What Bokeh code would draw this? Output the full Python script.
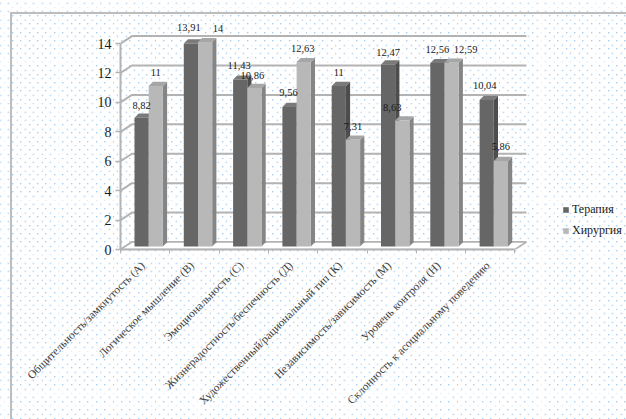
from bokeh.embed import file_html
from bokeh.resources import INLINE
from bokeh.core.properties import value
from bokeh.models import (ColumnDataSource, FixedTicker, Legend, LegendItem,
                          LinearAxis, Range1d)
from bokeh.plotting import figure

# Survey scores per personality scale, grouped by department
categories = [
    "Общительность/замкнутость (А)",
    "Логическое мышление (В)",
    "Эмоциональность (С)",
    "Жизнерадостность/беспечность (Д)",
    "Художественный/рациональный тип (К)",
    "Независимость/зависимость (М)",
    "Уровень контроля (Н)",
    "Склонность к асоциальному поведению",
]
therapy = [8.82, 13.91, 11.43, 9.56, 11, 12.47, 12.56, 10.04]
surgery = [11, 14, 10.86, 12.63, 7.31, 8.63, 12.59, 5.86]
series_names = ["Терапия", "Хирургия"]
y_ticks = [0, 2, 4, 6, 8, 10, 12, 14]

W, H = 626, 419
LEFT, BASE_Y, TOP = 120, 249, 12
PX_X = 49.3          # pixels per category
PX_Y = 14.71         # pixels per axis unit
DEPTH_X, DEPTH_Y = 11.5 / PX_X, 7.5 / PX_Y   # back wall offset
BAR_W = 14.2 / PX_X
BAR_GAP = 14 / PX_X
BAR_DX, BAR_DY = 4.2 / PX_X, 4.2 / PX_Y      # depth of one column
FLOOR = 3 / PX_Y     # columns stand slightly behind the front edge
SCALE = 14.6 / PX_Y  # columns are a little shorter because of the perspective

SERIES_STYLE = [
    dict(front="#666666", side="#4d4d4d", top="#7a7a7a"),
    dict(front="#b8b8b8", side="#858585", top="#a6a6a6"),
]

fmt = lambda v: f"{v:g}".replace(".", ",")

# Label nudges in pixels relative to the centre of each column's top
label_dx = [[0, -2, -1, -1, 0, 0, 0, -2], [0, 13, -2, -1, 0, -10, 14, 0]]
label_dy = [[5, 8, 6, 7, 6, 4, 6, 7], [6, 6, 5, 6, 6, 5, 5, 7]]

dots = (
    "data:image/svg+xml;utf8,<svg xmlns='http://www.w3.org/2000/svg' width='8.4' height='8.4'>"
    "<rect x='1' y='1' width='1.2' height='1.2' fill='%2397c6ef'/>"
    "<rect x='5.2' y='5.2' width='1.6' height='1.6' fill='%23c4def5'/></svg>"
)

p = figure(
    width=W, height=H, output_backend="svg", toolbar_location=None,
    x_range=Range1d(0, (W - LEFT) / PX_X),
    y_range=Range1d(0, (BASE_Y - TOP) / PX_Y),
    x_axis_location=None, y_axis_location=None,
    min_border_left=LEFT, min_border_right=0,
    min_border_top=TOP, min_border_bottom=H - BASE_Y,
    background_fill_color=None, border_fill_color=None,
)
p.outline_line_color = None
p.grid.visible = False
p.styles = {
    "background-color": "white",
    "background-image": (
        "linear-gradient(#bdbdbd,#bdbdbd),linear-gradient(#bdbdbd,#bdbdbd),"
        f'url("{dots}")'
    ),
    "background-size": "2px 407px,616px 2px,8.4px 8.4px",
    "background-position": "10px 12px,10px 12px,11px 14px",
    "background-repeat": "no-repeat,no-repeat,repeat",
}

n = len(categories)
wall = "#b3b3b3"

# Back wall: one horizontal rule per tick and its diagonal to the front axis
p.multi_line(
    xs=[[0, DEPTH_X, n + DEPTH_X] for _ in y_ticks],
    ys=[[t, t + DEPTH_Y, t + DEPTH_Y] for t in y_ticks],
    line_color=wall, line_width=2,
)
# Floor
p.patch(
    [0, DEPTH_X, n + DEPTH_X, n], [0, DEPTH_Y, DEPTH_Y, 0],
    fill_color="white", line_color=wall, line_width=1.5,
)

# Columns: side and top faces first, then the front face
handles = []
for s, values in enumerate((therapy, surgery)):
    st = SERIES_STYLE[s]
    x0 = [i + BAR_GAP + s * BAR_W for i in range(n)]
    x1 = [x + BAR_W for x in x0]
    y1 = [FLOOR + v * SCALE for v in values]
    p.patches(
        [[a, a + BAR_DX, a + BAR_DX, a] for a in x1],
        [[FLOOR, FLOOR + BAR_DY, t + BAR_DY, t] for t in y1],
        fill_color=st["side"], line_color=None,
    )
    p.patches(
        [[a, a + BAR_DX, b + BAR_DX, b] for a, b in zip(x0, x1)],
        [[t, t + BAR_DY, t + BAR_DY, t] for t in y1],
        fill_color=st["top"], line_color=None,
    )
    handles.append(p.quad(left=x0, right=x1, bottom=FLOOR, top=y1,
                          fill_color=st["front"], line_color=None))

# Value labels
for s, values in enumerate((therapy, surgery)):
    src = ColumnDataSource(dict(
        x=[i + BAR_GAP + (s + 0.5) * BAR_W for i in range(n)],
        y=[FLOOR + v * SCALE + BAR_DY for v in values],
        t=[fmt(v) for v in values],
        dx=label_dx[s],
        dy=[-d for d in label_dy[s]],
    ))
    p.text("x", "y", text="t", source=src, x_offset="dx", y_offset="dy",
           text_align="center", text_baseline="bottom",
           text_font=value("Liberation Serif"), text_font_size="10.5px",
           text_color="#1a1a1a")

y_axis = LinearAxis(
    ticker=FixedTicker(ticks=y_ticks), bounds=(0, 14),
    axis_line_color=wall, axis_line_width=2,
    major_tick_line_color=wall, major_tick_line_width=1.5,
    major_tick_out=5, major_tick_in=0, minor_tick_out=0, minor_tick_in=0,
    major_label_text_font="Liberation Serif", major_label_text_font_size="14px",
    major_label_text_color="#1a1a1a", major_label_standoff=4,
)
p.add_layout(y_axis, "left")

# Category names hang from a point just left of each group's middle
centres = [i + 0.45 for i in range(n)]
x_axis = LinearAxis(
    ticker=FixedTicker(ticks=centres, minor_ticks=list(range(n + 1))),
    bounds=(0, n),
    major_label_overrides={c: t for c, t in zip(centres, categories)},
    major_label_orientation=0.785,
    major_label_text_font="Liberation Serif", major_label_text_font_size="11.5px",
    major_label_text_color="#3c3c3c", major_label_standoff=10,
    axis_line_color=wall, axis_line_width=2,
    major_tick_out=0, major_tick_in=0,
    minor_tick_out=4, minor_tick_in=0, minor_tick_line_color=wall,
)
p.add_layout(x_axis, "below")

legend = Legend(
    items=[LegendItem(label=name, renderers=[r]) for name, r in zip(series_names, handles)],
    location=(442, 11), background_fill_alpha=0, border_line_color=None,
    glyph_width=7, glyph_height=7, label_standoff=3, spacing=6,
    label_text_font="Liberation Serif", label_text_font_size="12px",
    label_text_color="#222222", margin=0, padding=2,
)
p.add_layout(legend)

open("out.html", "w").write(file_html(p, INLINE))
